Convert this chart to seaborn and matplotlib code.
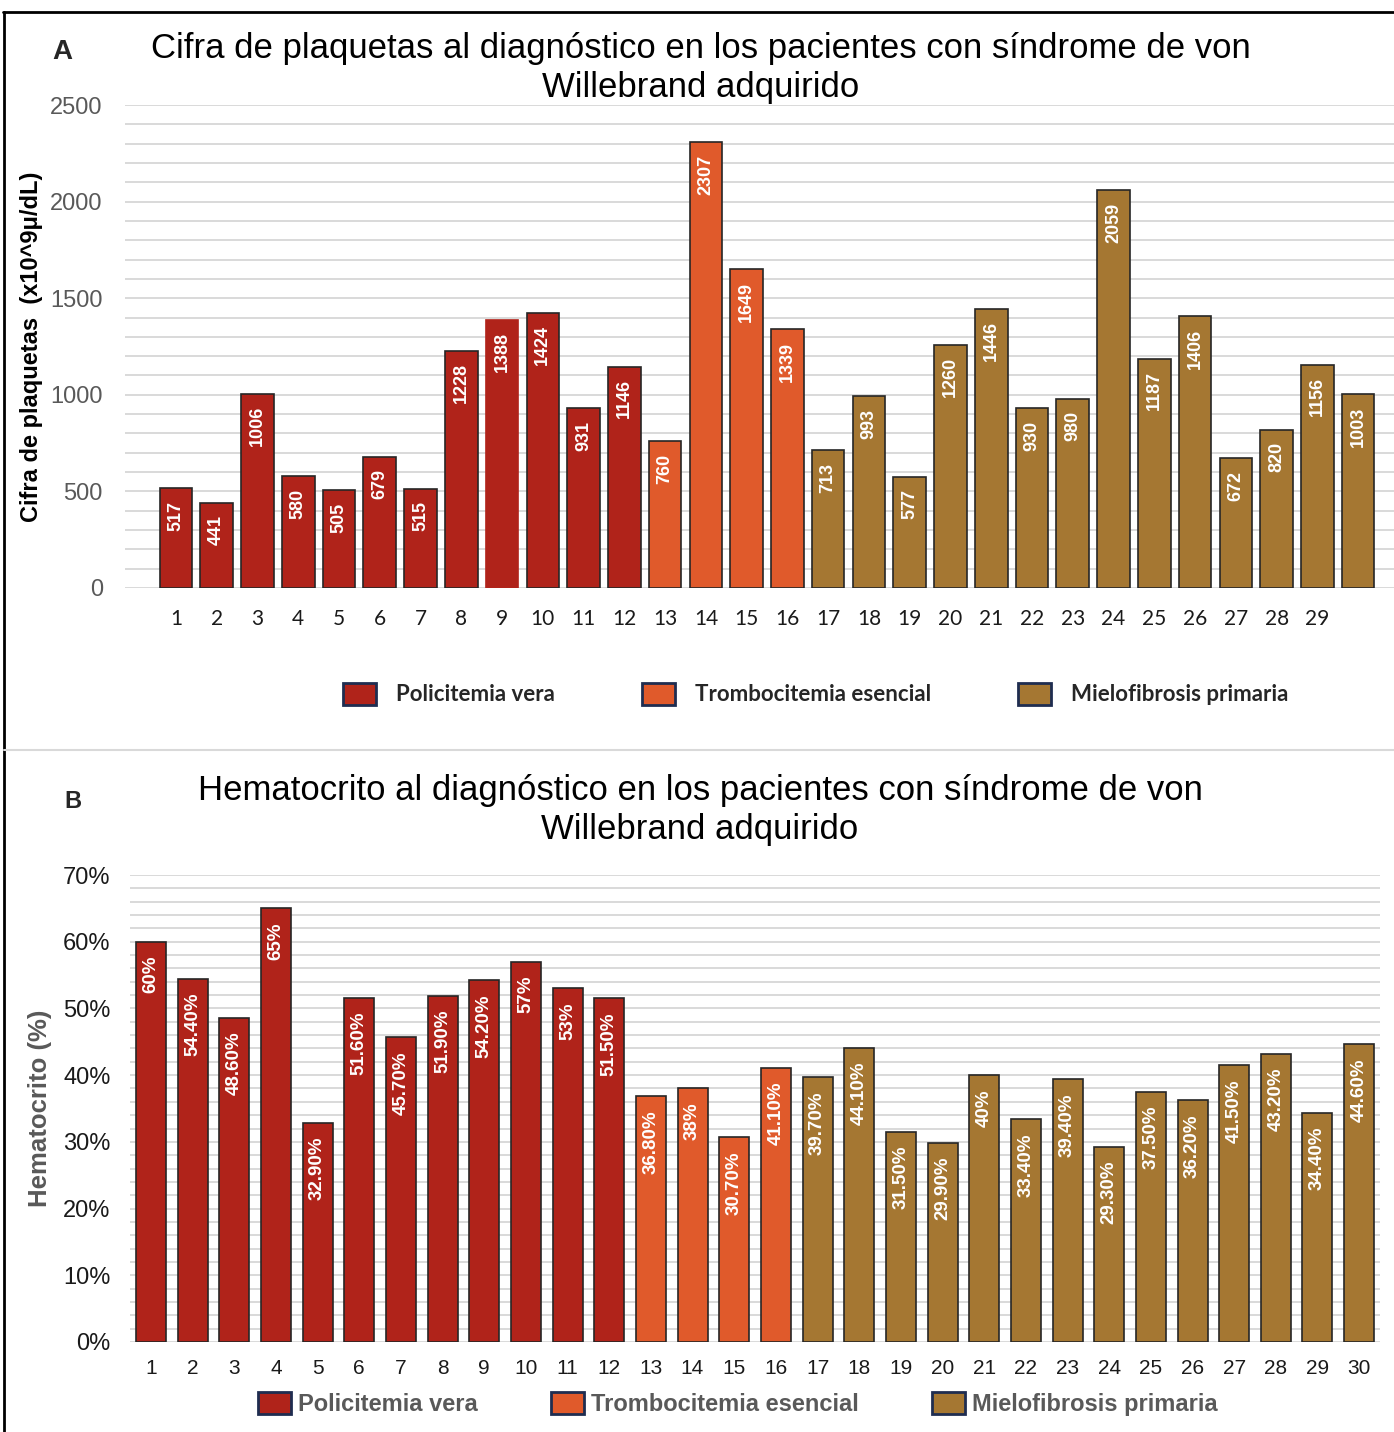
import matplotlib
matplotlib.use("Agg")
import matplotlib.pyplot as plt
from matplotlib.patches import Patch
from matplotlib.lines import Line2D
from matplotlib.ticker import MultipleLocator, FuncFormatter
import seaborn as sns
import pandas as pd

# ---- data -------------------------------------------------------------
groups = ["Policitemia vera", "Trombocitemia esencial", "Mielofibrosis primaria"]
colors = ["#B0231A", "#E05A2B", "#A57732"]

plaq_patients = list(range(1, 31))
plaq_values = [517, 441, 1006, 580, 505, 679, 515, 1228, 1388, 1424, 931, 1146,
               760, 2307, 1649, 1339,
               713, 993, 577, 1260, 1446, 930, 980, 2059, 1187, 1406, 672, 820, 1156, 1003]
plaq_groups = [groups[0]] * 12 + [groups[1]] * 4 + [groups[2]] * 14
plaq_ticklabels = [str(i) for i in range(1, 30)]

hto_patients = list(range(1, 31))
hto_values = [60, 54.4, 48.6, 65, 32.9, 51.6, 45.7, 51.9, 54.2, 57, 53, 51.5,
              36.8, 38, 30.7, 41.1,
              39.7, 44.1, 31.5, 29.9, 40, 33.4, 39.4, 29.3, 37.5, 36.2, 41.5, 43.2, 34.4, 44.6]
hto_labels = ["60%", "54.40%", "48.60%", "65%", "32.90%", "51.60%", "45.70%", "51.90%",
              "54.20%", "57%", "53%", "51.50%", "36.80%", "38%", "30.70%", "41.10%",
              "39.70%", "44.10%", "31.50%", "29.90%", "40%", "33.40%", "39.40%", "29.30%",
              "37.50%", "36.20%", "41.50%", "43.20%", "34.40%", "44.60%"]
hto_groups = [groups[0]] * 12 + [groups[1]] * 4 + [groups[2]] * 14

df_plaq = pd.DataFrame({"paciente": [str(p) for p in plaq_patients],
                        "valor": plaq_values, "grupo": plaq_groups})
df_hto = pd.DataFrame({"paciente": [str(p) for p in hto_patients],
                       "valor": hto_values, "grupo": hto_groups})

# ---- style ------------------------------------------------------------
sns.set_theme(style="white")
plt.rcParams["font.family"] = ["Liberation Sans", "DejaVu Sans"]

W, H = 1394, 1432
fig = plt.figure(figsize=(W / 100, H / 100), dpi=100)
palette = dict(zip(groups, colors))
GRID = "#d9d9d9"
EDGE = "#262626"
NAVY = "#1F2D50"


def fx(px):
    return px / W


def fy(py):
    return 1 - py / H


# ---- panel A: platelet count -----------------------------------------
axA = fig.add_axes([fx(125), fy(588), fx(1394 - 125), (588 - 105) / H])
sns.barplot(data=df_plaq, x="paciente", y="valor", hue="grupo", palette=palette,
            dodge=False, width=0.8, saturation=1, order=[str(p) for p in plaq_patients],
            edgecolor=EDGE, linewidth=1.2, legend=False, ax=axA)
for p in axA.patches:
    if abs(p.get_x() + p.get_width() / 2 - 8) < 0.1:
        p.set_edgecolor(p.get_facecolor())
axA.set_ylim(0, 2500)
axA.set_xlim(-1.25, 29.88)
axA.yaxis.set_major_locator(MultipleLocator(500))
axA.yaxis.set_minor_locator(MultipleLocator(100))
axA.grid(True, which="both", axis="y", color=GRID, linewidth=1.4)
axA.set_axisbelow(True)
for s in axA.spines.values():
    s.set_visible(False)
axA.set_xticks(range(29))
axA.set_xticklabels(plaq_ticklabels, fontfamily="Lato", fontsize=15, color="#1a1a1a")
axA.tick_params(axis="x", length=0, pad=15)
axA.tick_params(axis="y", which="both", length=0, pad=16, labelsize=17, labelcolor="#595959")
axA.set_xlabel("")
axA.set_ylabel("Cifra de plaquetas  (x10^9μ/dL)", fontsize=17, fontweight="bold",
               color="black", labelpad=5)
for i, v in enumerate(plaq_values):
    axA.annotate(str(v), (i, v), xytext=(0, -9), textcoords="offset points",
                 rotation=90, ha="center", va="top", color="white",
                 fontsize=13, fontweight="bold")

fig.text(fx(701), fy(68), "Cifra de plaquetas al diagnóstico en los pacientes con síndrome de von\nWillebrand adquirido",
         ha="center", va="center", fontsize=25, linespacing=1.26, color="black")
fig.text(fx(62), fy(52), "A", ha="center", va="center", fontsize=20, fontweight="bold")

handlesA = [Patch(facecolor=c, edgecolor=NAVY, linewidth=2, label=g) for g, c in zip(groups, colors)]
fig.legend(handles=handlesA, loc="center", bbox_to_anchor=(fx(816), fy(694)), ncol=3,
           frameon=False, prop={"family": "Lato", "weight": "bold", "size": 16},
           handlelength=1.5, handleheight=1.15, handletextpad=0.9, columnspacing=3.9)

# ---- panel B: hematocrit ---------------------------------------------
axB = fig.add_axes([fx(130), fy(1342), fx(1380 - 130), (1342 - 875) / H])
sns.barplot(data=df_hto, x="paciente", y="valor", hue="grupo", palette=palette,
            dodge=False, width=0.72, saturation=1, order=[str(p) for p in hto_patients],
            edgecolor=EDGE, linewidth=1.2, legend=False, ax=axB)
axB.set_ylim(0, 70)
axB.set_xlim(-0.5, 29.5)
axB.yaxis.set_major_locator(MultipleLocator(10))
axB.yaxis.set_minor_locator(MultipleLocator(2))
axB.yaxis.set_major_formatter(FuncFormatter(lambda v, _: f"{v:.0f}%"))
axB.grid(True, which="both", axis="y", color=GRID, linewidth=1.4)
axB.set_axisbelow(True)
for s in axB.spines.values():
    s.set_visible(False)
axB.set_xticks(range(30))
axB.set_xticklabels([str(p) for p in hto_patients], fontsize=15, color="#1a1a1a")
axB.tick_params(axis="x", length=0, pad=12)
axB.tick_params(axis="y", which="both", length=0, pad=14, labelsize=17, labelcolor="#1a1a1a")
axB.set_xlabel("")
axB.set_ylabel("Hematocrito (%)", fontsize=18.5, fontweight="bold", color="#595959", labelpad=8)
for i, (v, lab) in enumerate(zip(hto_values, hto_labels)):
    axB.annotate(lab, (i, v), xytext=(0, -10), textcoords="offset points",
                 rotation=90, ha="center", va="top", color="white",
                 fontsize=13.5, fontweight="bold")

fig.text(fx(700), fy(810), "Hematocrito al diagnóstico en los pacientes con síndrome de von\nWillebrand adquirido",
         ha="center", va="center", fontsize=25, linespacing=1.2, color="black")
fig.text(fx(73), fy(802), "B", ha="center", va="center", fontsize=17, fontweight="bold")

handlesB = [Patch(facecolor=c, edgecolor=NAVY, linewidth=2, label=g) for g, c in zip(groups, colors)]
fig.legend(handles=handlesB, loc="center", bbox_to_anchor=(fx(738), fy(1404)), ncol=3,
           frameon=False, prop={"weight": "bold", "size": 17}, labelcolor="#595959",
           handlelength=1.4, handleheight=1.1, handletextpad=0.3, columnspacing=3.1)

# ---- frame ------------------------------------------------------------
fig.add_artist(Line2D([fx(3), 1], [fy(12), fy(12)], color="black", linewidth=2))
fig.add_artist(Line2D([fx(4), fx(4)], [fy(12), 0], color="black", linewidth=2))
fig.add_artist(Line2D([fx(4), 1], [fy(750), fy(750)], color=GRID, linewidth=1.5))

fig.savefig("out.png", dpi=100, facecolor="white")
